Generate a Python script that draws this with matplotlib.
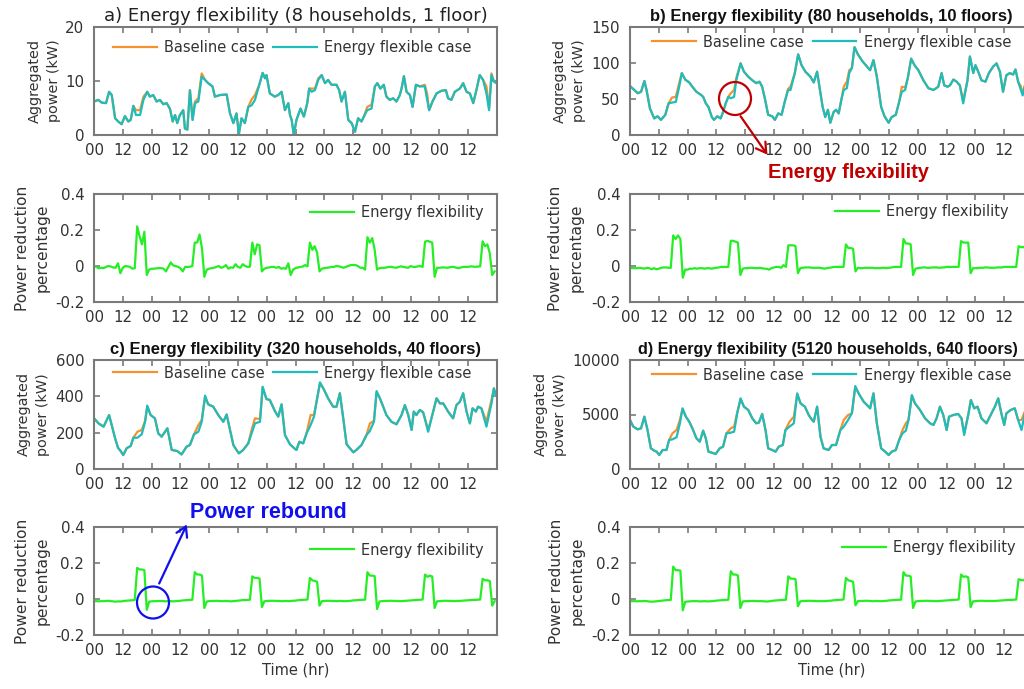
import matplotlib
matplotlib.use('Agg')
import numpy as np
import matplotlib.pyplot as plt
from matplotlib.patches import Ellipse, FancyArrowPatch

plt.rcParams['font.family'] = ['DejaVu Sans']
plt.rcParams['axes.unicode_minus'] = False

# ---------------- data ----------------
tick_pos = [0, 12, 24, 36, 48, 60, 72, 84, 96, 108, 120, 132, 144, 156]
tick_lab = ['00', '12', '00', '12', '00', '12', '00', '12', '00', '12', '00', '12', '00', '12']

# a) 8 households
a_hr = [0, 1.8, 3.2, 5.0, 6.3, 7.4, 8.8, 10.1, 11.5, 12.9, 14.3, 15.3, 16.4, 17.5, 19.2, 20.6, 22.2, 23.3,
        24.7, 26.1, 27.5, 28.9, 30.3, 31.7, 32.8, 33.8, 34.7, 35.8, 37.2, 37.9, 38.9, 40.0, 41.1, 42.1, 43.5, 44.9, 46.3, 47.6,
        49.4, 50.4, 52.5, 55.3, 56.7, 58.1, 59.4, 60.4, 61.5, 62.9, 64.3, 65.7, 67.1, 68.9, 70.3, 71.3, 71.9,
        73.3, 75.4, 76.8, 78.2, 79.6, 81.0, 81.7, 82.4, 83.3, 84.4, 86.1, 87.5, 88.9, 89.7, 90.7, 92.1, 93.5, 94.9,
        96.3, 97.6, 99.0, 101.1, 102.2, 103.2, 104.6, 106.0, 107.4, 108.8, 110.1, 111.5, 112.5, 113.9, 115.7, 117.1, 118.1,
        119.4, 120.8, 121.9, 123.3, 124.7, 126.1, 127.5, 128.2, 129.2, 130.3, 131.7, 132.8, 134.2, 135.8, 137.9, 138.9, 139.7,
        141.1, 142.8, 144.9, 146.7, 147.6, 149.0, 150.4, 152.5, 153.9, 155.3, 156.7, 158.1, 159.4, 160.8, 162.2, 163.6, 164.7, 165.7, 166.7, 167.5]
a_flex = [6.2, 6.5, 6.0, 5.9, 8.0, 7.4, 3.1, 2.5, 2.0, 3.5, 2.5, 2.8, 5.4, 3.7, 3.7, 6.5, 8.0, 7.1,
          7.4, 6.2, 6.5, 5.7, 5.9, 4.8, 2.5, 3.7, 2.2, 3.7, 4.6, 1.2, 1.0, 8.3, 2.8, 5.9, 6.2, 10.8, 10.2, 9.6,
          9.0, 7.1, 7.4, 7.5, 4.0, 2.2, 4.0, 0.2, 3.1, 2.2, 5.2, 5.5, 6.5, 9.3, 11.5, 10.5, 11.1,
          7.7, 7.1, 7.4, 8.0, 4.6, 5.9, 3.7, 2.8, 0.0, 2.8, 4.9, 3.4, 5.9, 8.6, 8.0, 8.3, 10.2, 11.1,
          9.6, 10.2, 9.3, 9.3, 8.3, 6.2, 8.0, 2.8, 2.2, 0.6, 3.1, 2.5, 3.4, 4.6, 4.9, 9.0, 9.6,
          8.6, 9.3, 7.1, 6.5, 6.8, 6.2, 7.4, 8.6, 10.9, 8.0, 7.4, 5.2, 9.3, 9.0, 9.0, 6.5, 4.6,
          6.2, 7.7, 8.2, 8.3, 6.8, 6.5, 8.0, 8.6, 9.6, 8.0, 7.7, 5.9, 8.3, 11.1, 10.2, 7.7, 4.6, 11.1, 9.9, 9.7]
a_base = [6.2, 6.5, 6.0, 5.9, 8.0, 7.4, 3.1, 2.5, 2.0, 3.5, 2.5, 2.8, 5.4, 4.6, 4.6, 7.1, 8.0, 7.1,
          7.4, 6.2, 6.5, 5.7, 5.9, 4.8, 2.5, 3.7, 2.2, 3.7, 4.6, 1.2, 1.0, 8.3, 2.8, 6.2, 6.8, 11.4, 10.2, 9.6,
          9.0, 7.1, 7.4, 7.5, 4.0, 2.2, 4.0, 0.2, 3.1, 2.2, 5.2, 6.6, 7.4, 9.3, 11.5, 10.5, 11.1,
          7.7, 7.1, 7.4, 8.0, 4.6, 5.9, 3.7, 2.8, 0.0, 2.8, 4.9, 3.4, 5.9, 8.6, 8.6, 8.6, 10.5, 11.1,
          9.6, 10.2, 9.3, 9.3, 8.3, 6.2, 8.0, 2.8, 2.2, 0.6, 3.1, 2.5, 3.4, 5.2, 5.6, 9.0, 9.6,
          8.6, 9.3, 7.1, 6.5, 6.8, 6.2, 7.4, 8.6, 10.9, 8.0, 7.4, 5.2, 9.3, 9.0, 9.3, 7.6, 4.6,
          6.2, 7.7, 8.2, 8.3, 6.8, 6.5, 8.0, 8.6, 9.6, 8.0, 7.7, 5.9, 8.3, 11.1, 10.2, 9.0, 5.0, 11.4, 9.9, 9.7]

# b) 80 households
b_hr = [0, 1.8, 3.2, 4.6, 6.0, 6.9, 8.3, 10.1, 11.5, 12.9, 14.7, 16.1, 17.5, 19.1, 20.5, 21.6, 23.0,
        24.7, 26.0, 27.7, 29.5, 30.5, 31.6, 32.7, 34.1, 35.0, 36.4, 37.8, 38.8, 39.9, 41.0, 42.0, 43.4, 44.3, 46.1, 47.5,
        49.3, 51.0, 52.6, 54.0, 55.1, 56.2, 57.6, 59.3, 60.4, 61.8, 63.2, 64.5, 65.9, 66.9, 68.7, 70.1, 71.5,
        73.1, 75.2, 76.6, 78.0, 79.4, 80.3, 81.4, 82.5, 83.5, 84.9, 85.9, 87.0, 88.1, 89.1, 90.4, 91.4, 92.5, 93.6, 95.0,
        97.0, 98.8, 100.1, 101.5, 102.9, 104.7, 106.1, 107.8, 109.1, 110.8, 112.2, 113.3, 114.7, 115.8, 117.2, 118.6,
        120.2, 122.3, 124.4, 126.5, 128.5, 129.9, 131.0, 132.4, 133.4, 134.8, 136.2, 137.5, 138.9, 140.7, 141.7, 143.1,
        144.0, 145.4, 146.5, 148.2, 149.6, 151.4, 152.8, 154.2, 155.5, 156.9, 158.3, 159.7, 160.7, 161.8, 162.9, 163.7, 165.5, 167.5]
b_flex = [68, 62.5, 58, 60, 75, 62.5, 37, 23, 26, 21, 28, 44, 45, 46, 67, 86, 77,
          73, 67, 60, 56, 53, 44, 39, 25, 21, 26, 23, 32, 44, 53, 51, 53, 76, 99.5, 88,
          81, 76, 72, 74, 67, 51, 28, 26, 21, 30, 28, 46, 62.5, 62.5, 86, 112, 97,
          88, 81, 73, 88, 58, 39, 25, 35, 17, 32, 35, 30, 49, 62.5, 65, 86, 93, 122, 112,
          102, 95, 90, 104, 81, 39, 26, 17, 25, 28, 46, 60, 62.5, 79, 106, 97,
          90, 76, 65, 62.5, 67, 86, 69, 67, 69, 77, 74, 69, 44, 76, 109, 86,
          97, 86, 76, 74, 86, 95, 99.5, 88, 60, 83, 86, 84, 91, 74, 63, 55, 80, 72]
b_base = [68, 62.5, 58, 60, 75, 62.5, 37, 23, 26, 21, 28, 44, 52, 53, 72, 86, 77,
          73, 67, 60, 56, 53, 44, 39, 25, 21, 26, 23, 32, 44, 53, 58, 62.5, 79, 99.5, 88,
          81, 76, 72, 74, 67, 51, 28, 26, 21, 30, 28, 46, 64, 67, 86, 112, 97,
          88, 81, 73, 88, 58, 39, 25, 35, 17, 32, 35, 30, 49, 67, 74, 90, 93, 122, 112,
          102, 95, 90, 104, 81, 39, 26, 17, 25, 28, 46, 67, 66, 79, 106, 97,
          90, 76, 65, 62.5, 67, 86, 69, 67, 69, 77, 74, 69, 48, 76, 109, 86,
          97, 86, 76, 74, 86, 95, 99.5, 88, 60, 83, 86, 84, 91, 74, 68, 58, 80, 72]

# c) 320 households
c_hr = [0, 1.9, 4.0, 6.3, 8.8, 10.0, 11.1, 12.2, 13.6, 15.3, 16.4, 18.1, 19.9, 21.3, 22.2, 23.6,
        25.4, 26.8, 28.2, 30.6, 32.4, 34.7, 36.5, 38.6, 40.0, 41.7, 43.5, 44.9, 46.3, 47.6,
        49.7, 51.8, 53.9, 55.3, 56.7, 58.1, 59.4, 60.4, 62.2, 64.3, 65.7, 67.1, 69.2, 70.3, 71.9,
        73.3, 75.4, 76.8, 78.2, 79.6, 81.7, 83.5, 84.4, 85.6, 87.2, 88.6, 90.3, 91.7, 94.2, 95.6,
        97.6, 99.7, 101.1, 102.5, 103.9, 105.3, 106.7, 108.1, 109.4, 111.5, 113.6, 115.0, 116.7, 117.8, 119.2,
        121.9, 124.0, 126.1, 128.2, 129.6, 131.0, 132.4, 133.3, 134.4, 135.8, 137.2, 137.9, 139.3, 141.4, 142.8,
        144.2, 145.6, 147.6, 149.7, 151.1, 152.5, 153.9, 155.3, 156.7, 157.8, 159.2, 160.1, 161.5, 163.6, 165.7, 166.7, 167.5]
c_flex = [279, 251, 233, 297, 169, 117, 99, 77, 114, 127, 172, 172, 191, 260, 349, 297,
          279, 196, 178, 224, 105, 99, 80, 123, 132, 191, 205, 260, 404, 356,
          343, 297, 260, 300, 215, 132, 105, 86, 105, 141, 196, 251, 260, 453, 385,
          380, 319, 288, 356, 187, 136, 114, 105, 150, 141, 196, 242, 288, 477, 444,
          389, 343, 343, 417, 279, 136, 114, 92, 105, 132, 187, 209, 260, 429, 389,
          297, 260, 246, 297, 352, 297, 215, 316, 297, 325, 312, 279, 205, 316, 389,
          361, 361, 316, 279, 352, 370, 417, 316, 251, 334, 316, 343, 334, 233, 361, 444, 407]
c_base = [279, 251, 233, 297, 169, 117, 99, 77, 114, 127, 172, 205, 215, 265, 342, 297,
          279, 196, 178, 224, 105, 99, 80, 123, 132, 191, 242, 270, 396, 356,
          343, 297, 260, 300, 215, 132, 105, 86, 105, 141, 215, 279, 275, 446, 385,
          380, 319, 288, 356, 187, 136, 114, 105, 150, 141, 196, 297, 297, 470, 444,
          389, 343, 343, 417, 279, 136, 114, 92, 105, 132, 187, 251, 265, 422, 389,
          297, 260, 246, 297, 352, 297, 215, 316, 297, 325, 312, 279, 215, 316, 389,
          361, 361, 316, 279, 352, 370, 417, 316, 251, 334, 316, 343, 334, 260, 380, 444, 407]

# d) 5120 households
d_hr = [0, 1.4, 3.2, 4.6, 6.0, 7.3, 8.7, 10.1, 11.1, 12.2, 13.6, 15.2, 16.3, 17.7, 19.4, 20.8, 21.9, 23.3,
        24.7, 26.0, 27.7, 29.1, 30.5, 31.6, 32.7, 34.1, 35.7, 37.4, 38.8, 40.2, 42.0, 43.4, 44.7, 46.1, 47.5,
        49.3, 51.0, 52.6, 53.7, 55.1, 56.5, 57.6, 59.3, 60.7, 62.0, 63.7, 64.8, 66.5, 68.3, 69.7, 71.1,
        72.9, 74.5, 75.9, 76.6, 78.0, 79.4, 80.7, 82.8, 84.2, 85.9, 87.7, 89.1, 90.9, 92.5, 93.9, 95.3,
        97.4, 98.8, 100.1, 101.5, 102.9, 104.7, 106.4, 107.8, 109.1, 110.8, 112.2, 113.6, 115.0, 116.1, 117.5, 118.8,
        120.9, 123.0, 125.1, 126.5, 127.8, 129.2, 130.6, 132.0, 133.0, 134.8, 136.8, 138.2, 139.3, 141.0, 142.1, 143.5,
        144.9, 146.5, 148.6, 150.0, 152.1, 153.5, 154.8, 156.0, 156.9, 158.7, 160.4, 161.8, 163.2, 165.0, 167.5]
d_flex = [4495, 3884, 3640, 3730, 4800, 3578, 1896, 1682, 1590, 1284, 1743, 1743, 2660, 2722, 2905, 4190, 5566, 4800,
          4342, 3730, 2813, 2508, 3517, 2813, 1590, 1498, 1376, 1896, 2049, 3272, 3333, 3425, 5107, 6483, 5719,
          5413, 4648, 4190, 4251, 5046, 3578, 1896, 1743, 1590, 2049, 2202, 3578, 3884, 4190, 6942, 6024,
          5719, 4954, 4495, 4342, 5719, 2966, 1896, 1743, 2202, 2202, 3578, 3884, 4495, 5107, 7614, 6942,
          6177, 5871, 5566, 6942, 4190, 1896, 1590, 1284, 1590, 1743, 2660, 3272, 3517, 4495, 6789, 6024,
          5413, 4648, 4190, 4037, 4648, 5719, 4954, 3578, 4800, 4954, 5046, 4648, 3119, 4954, 6330, 5566,
          5719, 4648, 4190, 4800, 5719, 6483, 5107, 4037, 5107, 5413, 5566, 4495, 3578, 5500, 5000]
d_base = [4495, 3884, 3640, 3730, 4800, 3578, 1896, 1682, 1590, 1284, 1743, 1743, 2660, 3272, 3578, 4495, 5500, 4800,
          4342, 3730, 2813, 2508, 3517, 2813, 1590, 1498, 1376, 1896, 2049, 3272, 3730, 3884, 5200, 6400, 5719,
          5413, 4648, 4190, 4251, 5046, 3578, 1896, 1743, 1590, 2049, 2202, 3578, 4342, 4800, 6850, 6024,
          5719, 4954, 4495, 4342, 5719, 2966, 1896, 1743, 2202, 2202, 3578, 4495, 4954, 5107, 7500, 6942,
          6177, 5871, 5566, 6942, 4190, 1896, 1590, 1284, 1590, 1743, 2660, 3578, 4190, 4495, 6700, 6024,
          5413, 4648, 4190, 4037, 4648, 5719, 4954, 3578, 4800, 4954, 5046, 4648, 3300, 4954, 6330, 5566,
          5719, 4648, 4190, 4800, 5719, 6483, 5107, 4037, 5107, 5413, 5566, 4495, 4495, 5500, 5000]

# power reduction percentage, hourly (one line per day)
pr_a = [0.0, -0.005, -0.013, -0.01, -0.012, -0.005, 0.0, -0.003, -0.008, -0.01, 0.015, -0.04, -0.01, 0.0, -0.002, -0.005, -0.015, -0.012, 0.22, 0.165, 0.12, 0.19, -0.05, -0.02,
        -0.015, -0.015, -0.013, -0.012, -0.012, -0.015, -0.03, -0.005, 0.02, 0.003, 0.0, -0.005, -0.012, -0.03, -0.005, -0.005, -0.004, 0.0, 0.13, 0.13, 0.175, 0.1, -0.06, -0.02,
        -0.015, -0.012, -0.01, -0.005, 0.0, -0.01, -0.005, 0.005, -0.015, -0.008, -0.01, 0.01, -0.005, -0.01, 0.01, 0.0, -0.005, -0.004, 0.13, 0.065, 0.12, 0.115, -0.03, -0.015,
        -0.01, -0.008, -0.005, -0.005, -0.01, -0.005, -0.015, -0.012, -0.015, 0.015, -0.05, -0.02, -0.012, -0.008, -0.005, -0.003, 0.005, -0.002, 0.13, 0.09, 0.11, 0.075, -0.03, -0.015,
        -0.012, -0.01, -0.008, -0.005, -0.005, 0.0, -0.002, -0.005, -0.01, -0.005, 0.0, 0.005, 0.005, 0.005, 0.0, -0.01, -0.01, -0.02, 0.16, 0.13, 0.155, 0.09, -0.02, -0.012,
        -0.01, -0.01, -0.008, -0.005, -0.005, -0.008, -0.01, -0.005, -0.002, -0.005, -0.008, -0.01, 0.0, -0.005, -0.005, -0.002, 0.0, -0.005, 0.135, 0.14, 0.135, 0.13, -0.06, -0.01,
        -0.01, -0.008, -0.008, -0.01, -0.008, -0.005, -0.005, -0.01, -0.012, -0.008, -0.005, -0.005, -0.005, -0.002, -0.003, -0.005, -0.003, -0.002, 0.137, 0.11, 0.12, 0.07, -0.05, -0.03]
pr_b = [-0.01, -0.012, -0.012, -0.012, -0.01, -0.012, -0.015, -0.01, -0.012, -0.018, -0.012, -0.018, -0.015, -0.01, -0.008, -0.008, -0.01, -0.01, 0.17, 0.15, 0.17, 0.15, -0.065, -0.02,
        -0.02, -0.015, -0.015, -0.012, -0.015, -0.012, -0.012, -0.015, -0.012, -0.012, -0.015, -0.012, -0.01, -0.008, -0.005, -0.005, -0.005, -0.005, 0.14, 0.14, 0.135, 0.13, -0.05, -0.015,
        -0.012, -0.012, -0.01, -0.01, -0.012, -0.012, -0.01, -0.012, -0.015, -0.015, -0.02, -0.012, -0.008, -0.005, -0.005, -0.01, 0.005, -0.005, 0.115, 0.115, 0.115, 0.11, -0.04, -0.012,
        -0.01, -0.008, -0.008, -0.008, -0.01, -0.01, -0.01, -0.01, -0.012, -0.015, -0.012, -0.01, -0.008, -0.005, -0.005, -0.005, -0.005, -0.005, 0.12, 0.1, 0.1, 0.095, -0.03, -0.01,
        -0.012, -0.012, -0.01, -0.01, -0.01, -0.01, -0.012, -0.012, -0.012, -0.01, -0.01, -0.012, -0.01, -0.008, -0.005, -0.005, -0.005, -0.005, 0.15, 0.125, 0.125, 0.12, -0.05, -0.015,
        -0.012, -0.01, -0.008, -0.008, -0.01, -0.01, -0.008, -0.008, -0.008, -0.01, -0.008, -0.008, -0.005, -0.005, -0.005, -0.005, -0.005, -0.005, 0.138, 0.13, 0.13, 0.13, -0.04, -0.012,
        -0.012, -0.012, -0.01, -0.01, -0.008, -0.008, -0.01, -0.01, -0.01, -0.008, -0.008, -0.008, -0.005, -0.005, -0.005, -0.005, -0.005, -0.005, 0.11, 0.105, 0.105, 0.1, -0.03, -0.01]
pr_c = [-0.012, -0.012, -0.013, -0.012, -0.012, -0.011, -0.010, -0.012, -0.013, -0.015, -0.013, -0.014, -0.012, -0.010, -0.009, -0.008, -0.007, -0.005, 0.173, 0.164, 0.164, 0.160, -0.060, -0.015,
        -0.013, -0.012, -0.012, -0.011, -0.011, -0.012, -0.013, -0.012, -0.012, -0.013, -0.012, -0.011, -0.010, -0.008, -0.007, -0.006, -0.005, -0.004, 0.149, 0.136, 0.136, 0.130, -0.050, -0.014,
        -0.012, -0.011, -0.011, -0.010, -0.011, -0.012, -0.012, -0.011, -0.012, -0.013, -0.012, -0.011, -0.009, -0.008, -0.006, -0.006, -0.005, -0.004, 0.126, 0.117, 0.117, 0.114, -0.045, -0.013,
        -0.011, -0.010, -0.010, -0.010, -0.011, -0.011, -0.012, -0.012, -0.011, -0.012, -0.011, -0.010, -0.009, -0.007, -0.006, -0.005, -0.004, -0.003, 0.117, 0.104, 0.100, 0.096, -0.037, -0.012,
        -0.011, -0.010, -0.010, -0.011, -0.011, -0.012, -0.011, -0.011, -0.012, -0.012, -0.011, -0.010, -0.008, -0.007, -0.006, -0.005, -0.004, -0.004, 0.149, 0.130, 0.130, 0.127, -0.056, -0.014,
        -0.012, -0.011, -0.011, -0.010, -0.010, -0.011, -0.011, -0.012, -0.012, -0.011, -0.010, -0.009, -0.008, -0.007, -0.006, -0.005, -0.004, -0.003, 0.136, 0.123, 0.130, 0.125, -0.050, -0.013,
        -0.012, -0.011, -0.010, -0.010, -0.011, -0.011, -0.012, -0.011, -0.011, -0.010, -0.009, -0.008, -0.007, -0.006, -0.005, -0.005, -0.004, -0.003, 0.112, 0.104, 0.104, 0.100, -0.037, -0.012]
pr_d = [-0.011, -0.012, -0.012, -0.013, -0.012, -0.012, -0.011, -0.012, -0.014, -0.015, -0.014, -0.013, -0.011, -0.010, -0.008, -0.007, -0.006, -0.005, 0.180, 0.160, 0.160, 0.158, -0.063, -0.016,
        -0.014, -0.013, -0.012, -0.012, -0.012, -0.013, -0.013, -0.012, -0.013, -0.013, -0.012, -0.011, -0.009, -0.008, -0.007, -0.006, -0.005, -0.004, 0.154, 0.136, 0.136, 0.130, -0.050, -0.014,
        -0.012, -0.012, -0.011, -0.011, -0.011, -0.012, -0.012, -0.012, -0.013, -0.014, -0.013, -0.011, -0.009, -0.008, -0.007, -0.006, -0.005, -0.004, 0.126, 0.113, 0.113, 0.110, -0.040, -0.013,
        -0.011, -0.011, -0.010, -0.010, -0.011, -0.011, -0.012, -0.012, -0.012, -0.012, -0.011, -0.010, -0.009, -0.007, -0.006, -0.005, -0.004, -0.003, 0.117, 0.104, 0.100, 0.095, -0.035, -0.012,
        -0.011, -0.011, -0.010, -0.010, -0.011, -0.012, -0.012, -0.011, -0.012, -0.012, -0.011, -0.010, -0.008, -0.007, -0.006, -0.005, -0.004, -0.004, 0.149, 0.130, 0.130, 0.125, -0.050, -0.014,
        -0.012, -0.011, -0.011, -0.010, -0.010, -0.011, -0.011, -0.012, -0.012, -0.011, -0.010, -0.009, -0.008, -0.007, -0.006, -0.005, -0.004, -0.003, 0.136, 0.123, 0.126, 0.120, -0.045, -0.013,
        -0.012, -0.011, -0.010, -0.010, -0.011, -0.011, -0.011, -0.011, -0.011, -0.010, -0.009, -0.008, -0.007, -0.006, -0.005, -0.005, -0.004, -0.003, 0.110, 0.105, 0.105, 0.100, -0.035, -0.012]
hours = np.arange(168)

ORANGE = '#F5922E'
TEAL = '#1FBCBC'
GREEN = '#25EE25'
AXC = '#7a7a7a'
TXT = '#333333'

W, H = 1024, 689
fig = plt.figure(figsize=(W / 100, H / 100), dpi=100)


def new_axes(x0, top, bottom, w=403):
    return fig.add_axes([x0 / W, 1 - bottom / H, w / W, (bottom - top) / H])


def style(ax, ylim, yticks, ylabels=None):
    ax.set_xlim(0, 168)
    ax.set_ylim(*ylim)
    ax.set_xticks(tick_pos)
    ax.set_xticklabels(tick_lab)
    ax.set_yticks(yticks)
    if ylabels is not None:
        ax.set_yticklabels(ylabels)
    ax.tick_params(direction='in', top=True, right=True, length=4, width=1.2,
                   color=AXC, labelcolor=TXT, labelsize=10.8)
    ax.tick_params(axis='x', pad=6)
    ax.tick_params(axis='y', pad=7)
    for s in ax.spines.values():
        s.set_color(AXC)
        s.set_linewidth(1.5)


def power_panel(ax, hr, base, flex, ylim, yticks, legx, legy, labx):
    ax.plot(hr, base, color=ORANGE, lw=1.6, label='Baseline case')
    ax.plot(hr, flex, color=TEAL, lw=1.6, label='Energy flexible case')
    style(ax, ylim, yticks)
    ax.set_ylabel('Aggregated\npower (kW)', fontsize=10.4, color=TXT, linespacing=1.45)
    ax.yaxis.set_label_coords(labx, 0.5)
    leg = ax.legend(loc='center left', bbox_to_anchor=(legx, legy), ncol=2, frameon=False,
                    fontsize=10.5, handlelength=3.0, handletextpad=0.5, columnspacing=0.6,
                    borderpad=0, borderaxespad=0)
    for t in leg.get_texts():
        t.set_color(TXT)


def pr_panel(ax, vals, legx, legy, labx):
    ax.plot(hours, vals, color=GREEN, lw=1.6, label='Energy flexibility')
    style(ax, (-0.2, 0.4), [-0.2, 0, 0.2, 0.4], ['-0.2', '0', '0.2', '0.4'])
    ax.set_ylabel('Power reduction\npercentage', fontsize=11.2, color=TXT, linespacing=1.45)
    ax.yaxis.set_label_coords(labx, 0.5)
    leg = ax.legend(loc='center left', bbox_to_anchor=(legx, legy), frameon=False,
                    fontsize=10.5, handlelength=3.0, handletextpad=0.5,
                    borderpad=0, borderaxespad=0)
    for t in leg.get_texts():
        t.set_color(TXT)


LX, RX = 94, 630

ax1 = new_axes(LX, 27, 135)
power_panel(ax1, a_hr, a_base, a_flex, (0, 20), [0, 10, 20], 0.047, 0.806, -0.082)
ax1.set_title('a) Energy flexibility (8 households, 1 floor)', fontsize=13, color='#222222', pad=4)

ax2 = new_axes(RX, 27, 135)
power_panel(ax2, b_hr, b_base, b_flex, (0, 150), [0, 50, 100, 150], 0.055, 0.861, -0.109)
ax2.set_title('b) Energy flexibility (80 households, 10 floors)', fontsize=12, fontweight='bold',
              family='Liberation Sans', color='#111111', pad=4.5)

ax3 = new_axes(LX, 194, 302)
pr_panel(ax3, pr_a, 0.536, 0.83, -0.109)
ax4 = new_axes(RX, 194, 302)
pr_panel(ax4, pr_b, 0.509, 0.84, -0.115)

ax5 = new_axes(LX, 360, 469)
power_panel(ax5, c_hr, c_base, c_flex, (0, 600), [0, 200, 400, 600], 0.047, 0.88, -0.109)
ax5.set_title('c) Energy flexibility (320 households, 40 floors)', fontsize=12, fontweight='bold',
              family='Liberation Sans', color='#111111', pad=4.5)

ax6 = new_axes(RX, 360, 469)
power_panel(ax6, d_hr, d_base, d_flex, (0, 10000), [0, 5000, 10000], 0.055, 0.862, -0.156)
ax6.set_title('d) Energy flexibility (5120 households, 640 floors)', fontsize=11.6, fontweight='bold',
              family='Liberation Sans', color='#111111', pad=4.5, x=0.49)

ax7 = new_axes(LX, 527, 635)
pr_panel(ax7, pr_c, 0.536, 0.787, -0.109)
ax8 = new_axes(RX, 527, 635)
pr_panel(ax8, pr_d, 0.526, 0.81, -0.112)
for ax in (ax7, ax8):
    ax.set_xlabel('Time (hr)', fontsize=10.5, color=TXT, labelpad=3)


# annotations (figure pixel positions, measured from the top-left)
def fx(x):
    return x / W


def fy(y):
    return 1 - y / H


RED = '#C00000'
BLUE = '#1010EE'
fig.add_artist(Ellipse((fx(735), fy(98.5)), 32 / W, 33 / H, transform=fig.transFigure,
                       fill=False, ec=RED, lw=1.6))
fig.add_artist(FancyArrowPatch((fx(739), fy(114)), (fx(769), fy(157)), transform=fig.transFigure,
                               arrowstyle='->,head_length=0.5,head_width=0.3', mutation_scale=14,
                               color=RED, lw=1.6))
fig.text(fx(768), fy(172), 'Energy flexibility', color=RED, fontsize=14.5, fontweight='bold',
         family='Liberation Sans', ha='left', va='center')

fig.add_artist(Ellipse((fx(153), fy(602.5)), 32 / W, 32 / H, transform=fig.transFigure,
                       fill=False, ec=BLUE, lw=1.6))
fig.add_artist(FancyArrowPatch((fx(158), fy(586)), (fx(188), fy(522)), transform=fig.transFigure,
                               arrowstyle='->,head_length=0.5,head_width=0.3', mutation_scale=14,
                               color=BLUE, lw=1.6))
fig.text(fx(190), fy(512), 'Power rebound', color=BLUE, fontsize=15.5, fontweight='bold',
         family='Liberation Sans', ha='left', va='center')

fig.savefig('out.png', dpi=100)
